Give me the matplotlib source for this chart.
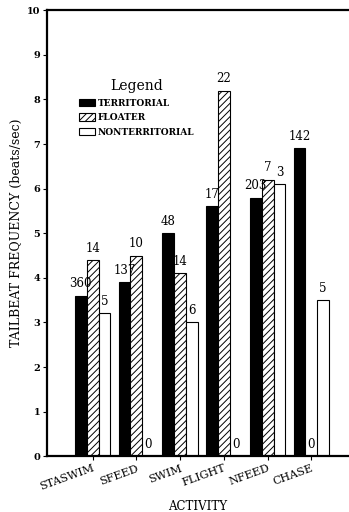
import matplotlib.pyplot as plt
import numpy as np

plt.rcParams['font.family'] = 'DejaVu Serif'
plt.rcParams['hatch.linewidth'] = 0.7

activities = ['STASWIM', 'SFEED', 'SWIM', 'FLIGHT', 'NFEED', 'CHASE']
territorial = [3.6, 3.9, 5.0, 5.6, 5.8, 6.9]
floater = [4.4, 4.5, 4.1, 8.2, 6.2, 0.0]
nonterritorial = [3.2, 0.0, 3.0, 0.0, 6.1, 3.5]

# sample sizes printed over the bars
n_territorial = [360, 137, 48, 17, 203, 142]
n_floater = [14, 10, 14, 22, 7, 0]
n_nonterritorial = [5, 0, 6, 0, 3, 5]

fig = plt.figure(figsize=(3.49, 5.12), dpi=100)
ax = fig.add_axes([0.135, 0.109, 0.865, 0.871])

x = np.arange(len(activities))
w = 0.27

b1 = ax.bar(x - w, territorial, w, color='black', edgecolor='black', linewidth=0.8, label='TERRITORIAL')
b2 = ax.bar(x, floater, w, color='white', edgecolor='black', hatch='/////', linewidth=0.8, label='FLOATER')
b3 = ax.bar(x + w, nonterritorial, w, color='white', edgecolor='black', linewidth=0.8, label='NONTERRITORIAL')

for bars, counts in [(b1, n_territorial), (b2, n_floater), (b3, n_nonterritorial)]:
    for bar, n in zip(bars, counts):
        h = bar.get_height()
        ax.text(bar.get_x() + bar.get_width() / 2, h + 0.12, str(n),
                ha='center', va='bottom', fontsize=8.5)

ax.set_xlim(-1.04, 5.86)
ax.set_ylim(0, 10)
ax.set_yticks(range(0, 11))
ax.tick_params(axis='y', labelsize=7, length=3, width=0.8, pad=2)
for t in ax.get_yticklabels():
    t.set_fontweight('bold')
ax.set_xticks(x)
ax.set_xticklabels(activities, rotation=20, ha='right', rotation_mode='anchor', fontsize=8)
ax.tick_params(axis='x', length=3, width=0.8, pad=2)

ax.spines['right'].set_visible(False)
for s in ['left', 'bottom', 'top']:
    ax.spines[s].set_linewidth(1.6)

ax.set_ylabel('TAILBEAT FREQUENCY (beats/sec)', fontsize=9, labelpad=3)
ax.set_xlabel('ACTIVITY', fontsize=8.5, labelpad=6)

leg = ax.legend(loc='upper left', bbox_to_anchor=(0.09, 0.855), frameon=False,
                title='Legend', fontsize=6.5, title_fontsize=10,
                handlelength=1.8, handleheight=0.9, handletextpad=0.3,
                labelspacing=0.6, borderpad=0)
for t in leg.get_texts():
    t.set_fontweight('bold')

fig.savefig('out.png', dpi=100)
